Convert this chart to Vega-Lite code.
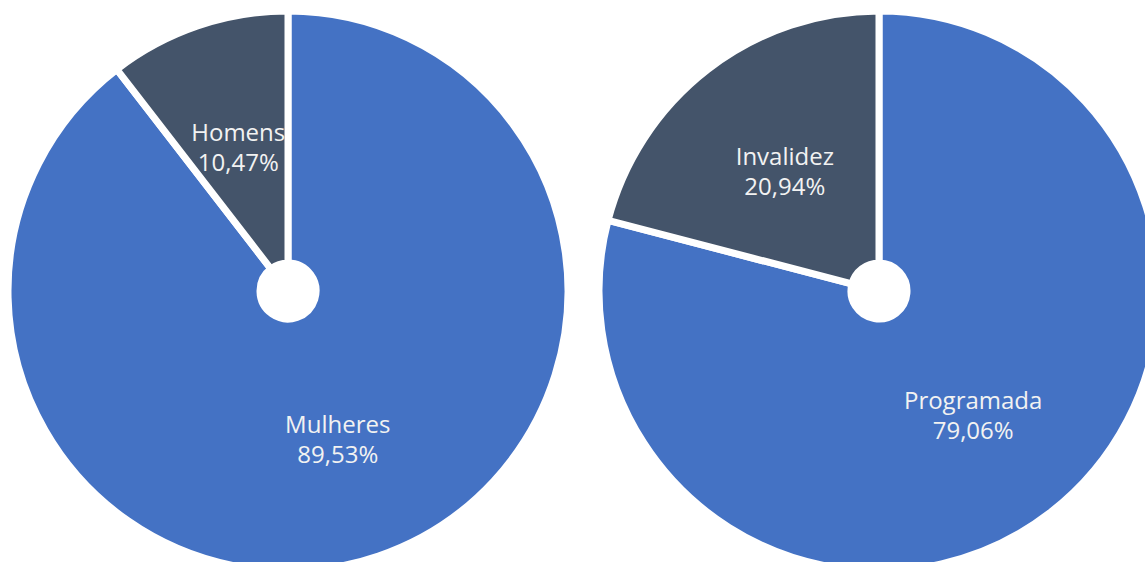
{
  "$schema": "https://vega.github.io/schema/vega-lite/v6.json",
  "background": "white",
  "autosize": {"type": "none"},
  "width": 1145,
  "height": 542,
  "padding": {"left": 0, "right": 0, "top": 20, "bottom": 0},
  "config": {"view": {"stroke": null}},
  "encoding": {
    "x": {"field": "grafico", "type": "nominal", "scale": {"type": "point", "padding": 0, "domain": ["Sexo", "Tipo"], "range": [288, 879]}, "axis": null},
    "theta": {"field": "percentual", "type": "quantitative", "stack": true},
    "order": {"field": "categoria", "type": "nominal", "sort": "descending"}
  },
  "layer": [
    {
      "data": {"values": [
        {"grafico": "Sexo", "categoria": "Mulheres", "percentual": 89.53, "rotulo": "Mulheres\n89,53%"},
        {"grafico": "Sexo", "categoria": "Homens", "percentual": 10.47, "rotulo": "Homens\n10,47%"}
      ]},
      "layer": [
        {
          "mark": {"type": "arc", "outerRadius": 280, "innerRadius": 28, "stroke": "white", "strokeWidth": 7},
          "encoding": {
            "color": {"field": "categoria", "type": "nominal", "scale": {"domain": ["Mulheres", "Homens", "Programada", "Invalidez"], "range": ["#4472C4", "#44546A", "#4472C4", "#44546A"]}, "legend": null}
          }
        },
        {
          "mark": {"type": "text", "radius": 154, "dy": -11, "font": "Open Sans", "fontSize": 24, "lineBreak": "\n", "lineHeight": 30, "color": "#F2F2F2", "align": "center", "baseline": "middle"},
          "encoding": {"text": {"field": "rotulo", "type": "nominal"}}
        }
      ]
    },
    {
      "data": {"values": [
        {"grafico": "Tipo", "categoria": "Programada", "percentual": 79.06, "rotulo": "Programada\n79,06%"},
        {"grafico": "Tipo", "categoria": "Invalidez", "percentual": 20.94, "rotulo": "Invalidez\n20,94%"}
      ]},
      "layer": [
        {
          "mark": {"type": "arc", "outerRadius": 280, "innerRadius": 28, "stroke": "white", "strokeWidth": 7},
          "encoding": {
            "color": {"field": "categoria", "type": "nominal", "legend": null}
          }
        },
        {
          "mark": {"type": "text", "radius": 154, "dy": -11, "font": "Open Sans", "fontSize": 24, "lineBreak": "\n", "lineHeight": 30, "color": "#F2F2F2", "align": "center", "baseline": "middle"},
          "encoding": {"text": {"field": "rotulo", "type": "nominal"}}
        }
      ]
    }
  ]
}
